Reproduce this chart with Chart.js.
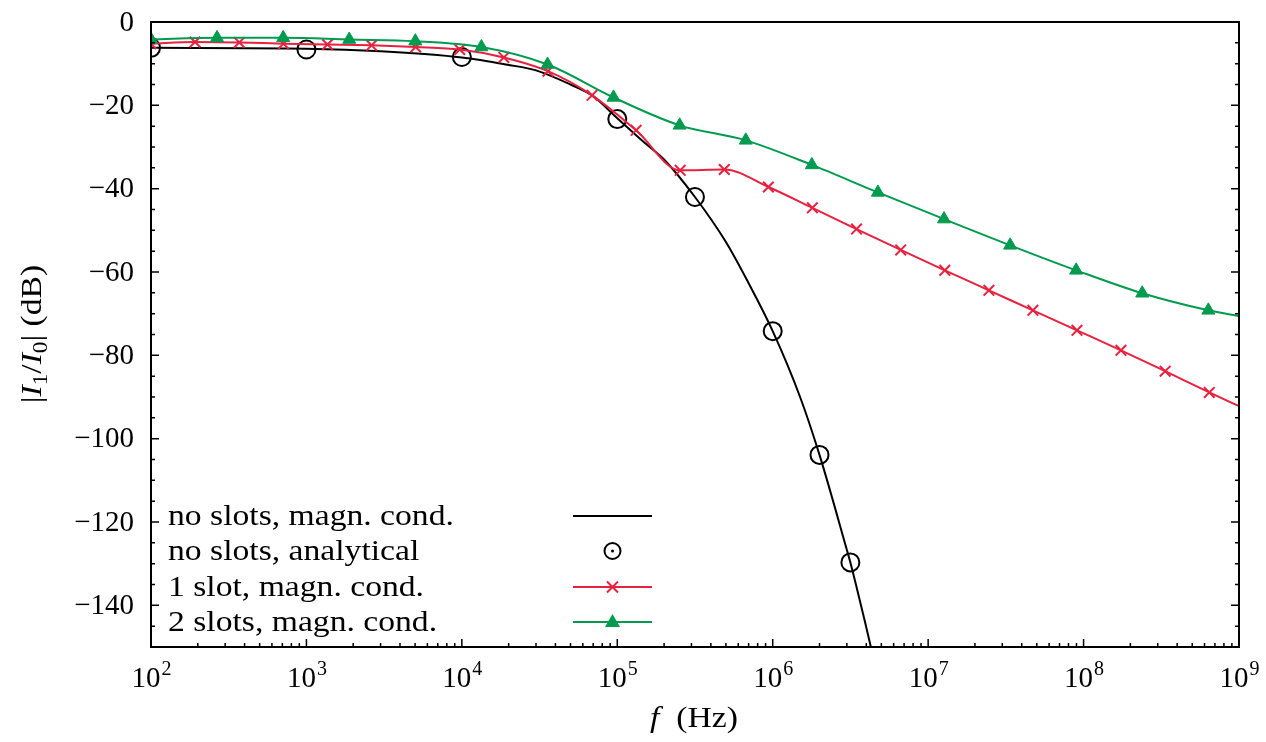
<!DOCTYPE html>
<html>
<head>
<meta charset="utf-8">
<title>|I1/I0| vs f</title>
<script src="https://cdn.jsdelivr.net/npm/chart.js@4.4.1/dist/chart.umd.min.js"></script>
<style>
  body { margin: 0; background: #fff; }
  #wrap { width: 1266px; height: 742px; }
</style>
</head>
<body>
<div id="wrap"><canvas id="chart" width="1266" height="742"></canvas></div>
<script>
/* Data */
const xExponents = [2, 3, 4, 5, 6, 7, 8, 9];
const yTickValues = [0, -20, -40, -60, -80, -100, -120, -140];

// no slots, magn. cond. (solid black curve)
const blackFreq = [1e2, 1e3, 3e3, 1e4, 2e4, 3e4, 5e4, 7e4, 1e5, 1.5e5, 2e5, 3.16e5, 5e5, 7e5, 1e6, 1.5e6, 2e6, 3e6, 3.16e6, 4e6, 5e6];
const blackDb = [-6.2, -6.4, -7.0, -8.5, -10.3, -11.6, -15.0, -17.8, -23.1, -29.0, -33.0, -42.0, -52.8, -62.7, -74.2, -90.0, -103.9, -126.7, -129.7, -145.3, -160.8];

// no slots, analytical (open circles)
const analyticFreq = [1e2, 1e3, 1e4, 1e5, 3.16e5, 1e6, 2e6, 3.16e6];
const analyticDb = [-6.2, -6.6, -8.4, -23.3, -42.0, -74.2, -103.9, -129.7];

// 1 slot, magn. cond. (red crosses)
const redFreq = [100, 192, 370, 711, 1366, 2625, 5045, 9695, 1.863e4, 3.58e4, 6.88e4, 1.322e5, 2.54e5, 4.88e5, 9.38e5, 1.8e6, 3.46e6, 6.66e6, 1.28e7, 2.46e7, 4.72e7, 9.07e7, 1.74e8, 3.35e8, 6.44e8, 1e9];
const redDb = [-5.2, -4.8, -4.9, -5.2, -5.4, -5.6, -6.0, -6.6, -8.5, -11.8, -17.6, -26.0, -35.6, -35.4, -39.6, -44.6, -49.7, -54.7, -59.6, -64.4, -69.2, -74.0, -78.8, -83.8, -88.9, -92.2];

// 2 slots, magn. cond. (green triangles)
const greenFreq = [100, 266, 709, 1886, 5020, 1.336e4, 3.56e4, 9.46e4, 2.52e5, 6.71e5, 1.786e6, 4.75e6, 1.265e7, 3.37e7, 8.96e7, 2.385e8, 6.35e8, 1e9];
const greenDb = [-4.2, -3.8, -3.8, -4.2, -4.6, -6.0, -10.2, -18.1, -24.8, -28.4, -34.3, -40.9, -47.3, -53.6, -59.6, -65.1, -69.2, -70.6];

const legendLabels = ["no slots, magn. cond.", "no slots, analytical", "1 slot, magn. cond.", "2 slots, magn. cond."];

const RED = "#e8213f";
const GREEN = "#009b4e";
const SERIF = "'Liberation Serif', 'DejaVu Serif', serif";
const STRETCH = 1.16; // Computer Modern runs wider than Times

const toPoints = (xs, ys) => xs.map((x, i) => ({ x: x, y: ys[i] }));

// markers on every point except the closing one at 1e9
const lastHidden = (r) => (c) => (c.dataIndex === c.dataset.data.length - 1 ? 0 : r);

// text drawn with a slight horizontal stretch, left edge at x
function wideText(c, txt, x, y) {
  c.save();
  c.translate(x, y);
  c.scale(STRETCH, 1);
  c.fillText(txt, 0, 0);
  c.restore();
  return c.measureText(txt).width * STRETCH;
}

/* Frame, inward ticks, labels, titles and legend */
const decorations = {
  id: "decorations",
  afterDatasetsDraw(chart) {
    const c = chart.ctx;
    const a = chart.chartArea;
    const xs = chart.scales.x;
    const ys = chart.scales.y;
    c.save();
    c.strokeStyle = "#000";
    c.fillStyle = "#000";
    c.lineWidth = 1.5;

    // ticks on the bottom axis
    c.beginPath();
    xExponents.forEach((e, i) => {
      const px = xs.getPixelForValue(Math.pow(10, e));
      c.moveTo(px, a.bottom);
      c.lineTo(px, a.bottom - 8);
      if (i < xExponents.length - 1) {
        for (let m = 2; m <= 9; m++) {
          const mx = xs.getPixelForValue(m * Math.pow(10, e));
          c.moveTo(mx, a.bottom);
          c.lineTo(mx, a.bottom - 4);
        }
      }
    });
    // ticks on left and right
    for (let v = 0; v >= -150; v -= 5) {
      const py = ys.getPixelForValue(v);
      const len = v % 20 === 0 ? 8 : 4;
      c.moveTo(a.left, py);
      c.lineTo(a.left + len, py);
      c.moveTo(a.right, py);
      c.lineTo(a.right - len, py);
    }
    c.stroke();

    // frame
    c.lineWidth = 2;
    c.strokeRect(a.left, a.top, a.right - a.left, a.bottom - a.top);

    // y tick labels
    c.font = "29px " + SERIF;
    c.textAlign = "right";
    c.textBaseline = "middle";
    yTickValues.forEach((v) => {
      const label = v === 0 ? "0" : "\u2212" + Math.abs(v);
      c.fillText(label, a.left - 17, ys.getPixelForValue(v) + 1);
    });

    // x tick labels 10^n
    c.textBaseline = "alphabetic";
    c.textAlign = "left";
    xExponents.forEach((e) => {
      const px = xs.getPixelForValue(Math.pow(10, e));
      c.font = "29px " + SERIF;
      const wb = c.measureText("10").width;
      c.font = "20px " + SERIF;
      const we = c.measureText(String(e)).width;
      const x0 = px - (wb + we) / 2;
      c.font = "29px " + SERIF;
      c.fillText("10", x0, 687);
      c.font = "20px " + SERIF;
      c.fillText(String(e), x0 + wb + 1, 675);
    });

    // x title: f (Hz)
    c.font = "italic 29px " + SERIF;
    const wf = c.measureText("f").width * STRETCH;
    c.font = "29px " + SERIF;
    const wh = c.measureText("  (Hz)").width * STRETCH;
    const tx = 694 - (wf + wh) / 2;
    c.font = "italic 29px " + SERIF;
    wideText(c, "f", tx, 727);
    c.font = "29px " + SERIF;
    wideText(c, "  (Hz)", tx + wf, 727);

    // y title: |I1/I0| (dB), rotated
    const parts = [
      ["|", "29px", 0], ["I", "italic 29px", 0], ["1", "20px", 6],
      ["/", "29px", 0], ["I", "italic 29px", 0], ["0", "20px", 6], ["| (dB)", "29px", 0]
    ];
    let total = 0;
    parts.forEach((p) => { c.font = p[1] + " " + SERIF; total += c.measureText(p[0]).width * STRETCH; });
    c.save();
    c.translate(41, 334);
    c.rotate(-Math.PI / 2);
    let cx = -total / 2;
    parts.forEach((p) => {
      c.font = p[1] + " " + SERIF;
      cx += wideText(c, p[0], cx, p[2]);
    });
    c.restore();

    // legend
    const rowsY = [516, 551, 587, 622];
    c.font = "29px " + SERIF;
    legendLabels.forEach((t, i) => wideText(c, t, 168, rowsY[i] + 9));
    const sx0 = 573, sx1 = 652, smid = 612.5;
    c.lineWidth = 2;
    c.strokeStyle = "#000";
    c.beginPath(); c.moveTo(sx0, rowsY[0]); c.lineTo(sx1, rowsY[0]); c.stroke();
    c.beginPath(); c.arc(smid, rowsY[1], 8, 0, Math.PI * 2); c.stroke();
    c.beginPath(); c.arc(smid, rowsY[1], 1.5, 0, Math.PI * 2); c.fill();
    c.strokeStyle = RED;
    c.beginPath(); c.moveTo(sx0, rowsY[2]); c.lineTo(sx1, rowsY[2]);
    c.moveTo(smid - 5.5, rowsY[2] - 5.5); c.lineTo(smid + 5.5, rowsY[2] + 5.5);
    c.moveTo(smid - 5.5, rowsY[2] + 5.5); c.lineTo(smid + 5.5, rowsY[2] - 5.5);
    c.stroke();
    c.strokeStyle = GREEN;
    c.fillStyle = GREEN;
    c.beginPath(); c.moveTo(sx0, rowsY[3]); c.lineTo(sx1, rowsY[3]); c.stroke();
    c.beginPath();
    c.moveTo(smid, rowsY[3] - 8); c.lineTo(smid + 7.5, rowsY[3] + 5); c.lineTo(smid - 7.5, rowsY[3] + 5);
    c.closePath(); c.fill();

    c.restore();
  }
};

new Chart(document.getElementById("chart").getContext("2d"), {
  type: "line",
  data: {
    datasets: [
      {
        label: legendLabels[3],
        data: toPoints(greenFreq, greenDb),
        borderColor: GREEN,
        backgroundColor: GREEN,
        borderWidth: 2,
        pointStyle: "triangle",
        pointRadius: lastHidden(7.5),
        pointBorderWidth: 1,
        cubicInterpolationMode: "monotone",
        order: 1
      },
      {
        label: legendLabels[2],
        data: toPoints(redFreq, redDb),
        borderColor: RED,
        backgroundColor: RED,
        borderWidth: 2,
        pointStyle: "crossRot",
        pointRadius: lastHidden(7.5),
        pointBorderWidth: 2,
        cubicInterpolationMode: "monotone",
        order: 2
      },
      {
        label: legendLabels[1],
        data: toPoints(analyticFreq, analyticDb),
        showLine: false,
        borderColor: "#000",
        backgroundColor: "rgba(0,0,0,0)",
        pointStyle: "circle",
        pointRadius: 9,
        pointBorderWidth: 2,
        order: 3
      },
      {
        label: legendLabels[0],
        data: toPoints(blackFreq, blackDb),
        borderColor: "#000",
        borderWidth: 2,
        pointRadius: 0,
        cubicInterpolationMode: "monotone",
        order: 4
      }
    ]
  },
  options: {
    responsive: false,
    devicePixelRatio: 1,
    animation: false,
    layout: { padding: { left: 151, right: 27, top: 22, bottom: 95 } },
    plugins: { legend: { display: false }, tooltip: { enabled: false } },
    scales: {
      x: { type: "logarithmic", min: 100, max: 1e9, display: false },
      y: { type: "linear", min: -150, max: 0, display: false }
    }
  },
  plugins: [decorations]
});
</script>
</body>
</html>
